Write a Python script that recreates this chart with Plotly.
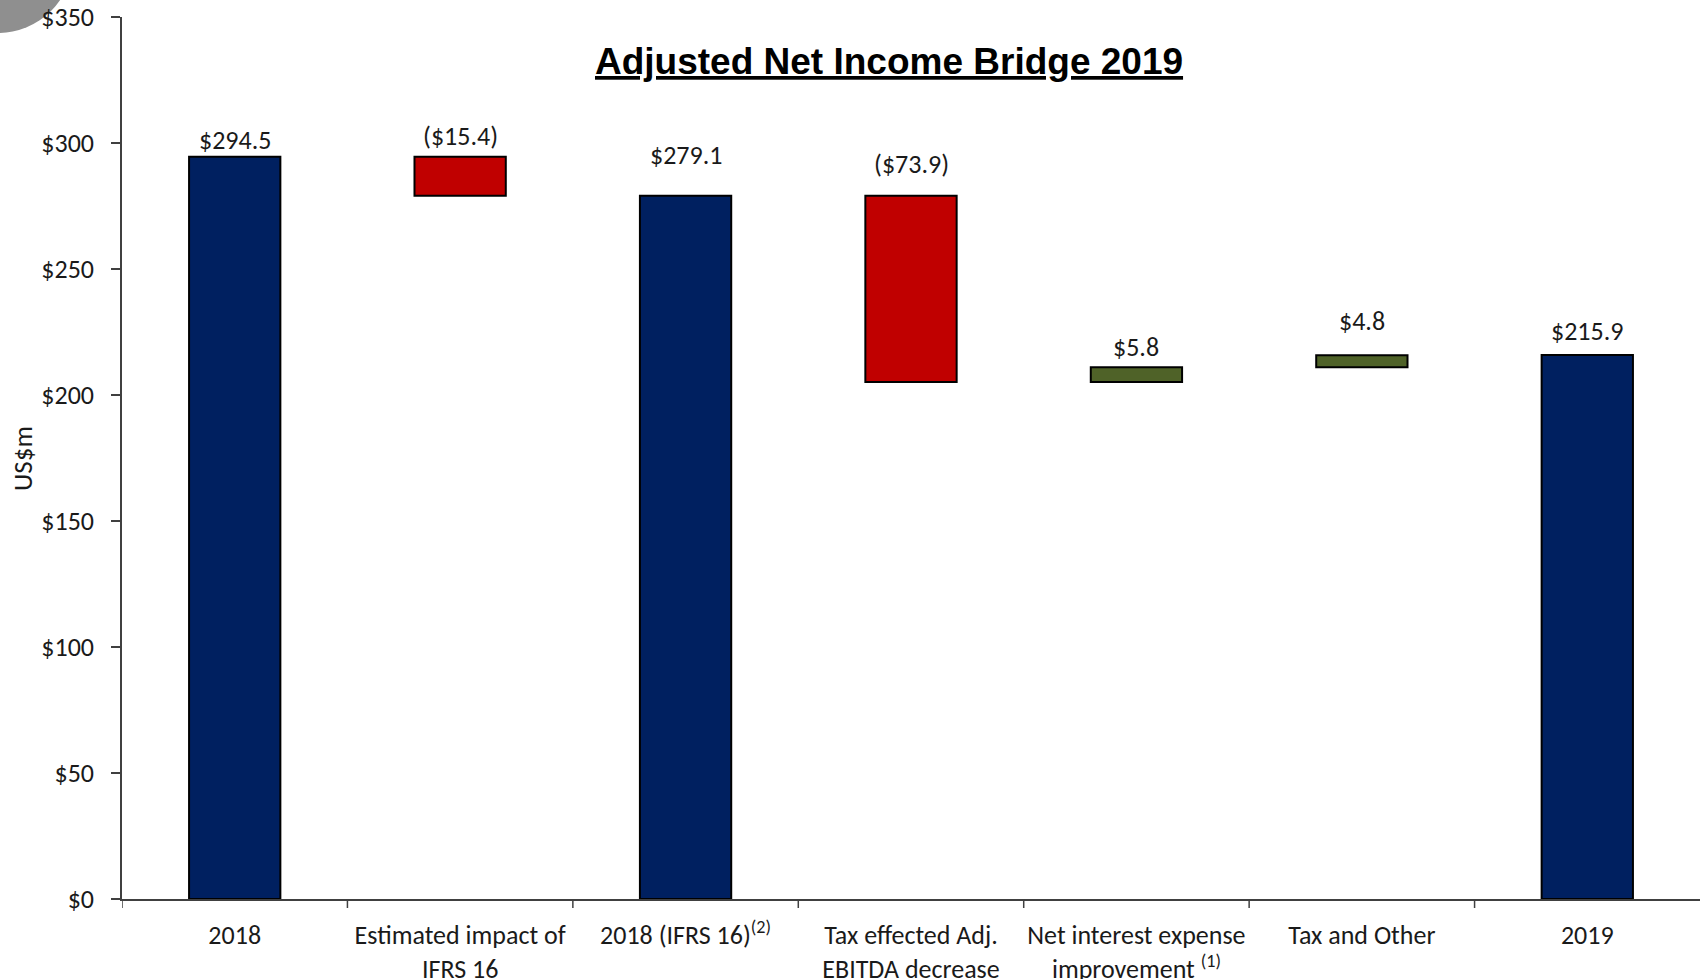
import plotly.graph_objects as go

# ---------------- data ----------------
categories = [
    "2018",
    "Estimated impact of<br>IFRS 16",
    "2018 (IFRS 16)<sup>(2)</sup>",
    "Tax effected Adj.<br>EBITDA decrease",
    "Net interest expense<br>improvement <sup>(1)</sup>",
    "Tax and Other",
    "2019",
]
values = [294.5, -15.4, 279.1, -73.9, 5.8, 4.8, 215.9]
kinds = ["total", "delta", "total", "delta", "delta", "delta", "total"]
label_shift_px = [17, 21, 41, 32, 20, 34, 24]  # label offset above bar top (style)
y_ticks = [0, 50, 100, 150, 200, 250, 300, 350]
y_tick_text = ["$0", "$50", "$100", "$150", "$200", "$250", "$300", "$350"]

# ---------------- style ----------------
NAVY = "#002060"
RED = "#C00000"
GREEN = "#4F6228"
TXT = "#1a1a1a"
FONT = "Carlito, Lato, sans-serif"

W, H = 1700, 979
ML, MR, MT, MB = 122, 0, 17, 80
PW, PH = W - ML - MR, H - MT - MB

# ---------------- bars ----------------
bases, heights, colors, tops, labels = [], [], [], [], []
running = 0.0
for v, k in zip(values, kinds):
    if k == "total":
        bases.append(0)
        heights.append(v)
        colors.append(NAVY)
        running = v
        tops.append(v)
        labels.append(f"${v:.1f}")
    else:
        new = running + v
        bases.append(min(running, new))
        heights.append(abs(v))
        colors.append(GREEN if v > 0 else RED)
        tops.append(max(running, new))
        labels.append(f"${v:.1f}" if v > 0 else f"(${abs(v):.1f})")
        running = new

idx = list(range(len(categories)))

fig = go.Figure()
fig.add_trace(go.Bar(
    x=idx, y=heights, base=bases,
    marker=dict(color=colors, line=dict(color="#000000", width=2)),
    width=0.405, hoverinfo="skip", showlegend=False,
))

for i, t, lab, s in zip(idx, tops, labels, label_shift_px):
    fig.add_annotation(x=i, y=t, text=lab, showarrow=False, xanchor="center",
                       yanchor="middle", yshift=s,
                       font=dict(family=FONT, size=26, color=TXT))

# y axis title
fig.add_annotation(xref="paper", yref="paper", x=(22 - ML) / PW, y=0.5,
                   xanchor="center", yanchor="middle",
                   text="US$m", textangle=-90, showarrow=False,
                   font=dict(family=FONT, size=27, color=TXT))

# chart title
fig.add_annotation(xref="paper", yref="paper", x=(889 - ML) / PW,
                   y=(H - MB - 62) / PH, xanchor="center", yanchor="middle",
                   text="<b>Adjusted Net Income Bridge 2019</b>", showarrow=False,
                   font=dict(family="Liberation Sans, Arial, sans-serif", size=37,
                             color="#000000", lineposition="under"))

# decorative grey circle at the top-left corner
def px_x(p):
    return (p - ML) / PW

def px_y(p):
    return (H - MB - p) / PH

fig.add_shape(type="circle", xref="paper", yref="paper",
              x0=px_x(-77), x1=px_x(73), y0=px_y(33), y1=px_y(-117),
              fillcolor="#8f8f8f", line=dict(width=0), layer="below")

fig.update_layout(
    width=W, height=H,
    margin=dict(l=ML, r=MR, t=MT, b=MB, autoexpand=False),
    plot_bgcolor="white", paper_bgcolor="white",
    font=dict(family=FONT, size=26, color=TXT),
    xaxis=dict(
        range=[-0.5, len(categories) - 0.5], automargin=False,
        tickvals=idx, ticktext=categories, tickangle=0,
        showline=True, linecolor="#404040", linewidth=1.5,
        ticks="", showgrid=False, zeroline=False,
        tickfont=dict(family=FONT, size=26, color=TXT), ticklabelstandoff=12,
    ),
    yaxis=dict(
        range=[0, 350], tickvals=y_ticks, ticktext=y_tick_text, automargin=False,
        showline=True, linecolor="#404040", linewidth=1.5,
        ticks="outside", ticklen=9, tickwidth=1.5, tickcolor="#404040",
        showgrid=False, zeroline=False,
        tickfont=dict(family=FONT, size=26, color=TXT), ticklabelstandoff=12,
    ),
)

# category boundary ticks on the x axis (between categories)
for b in [i + 0.5 for i in idx[:-1]] + [-0.5]:
    fig.add_shape(type="line", xref="x", yref="paper", x0=b, x1=b,
                  y0=0, y1=-9 / PH, line=dict(color="#404040", width=1.5))

fig.write_html("out.html")
